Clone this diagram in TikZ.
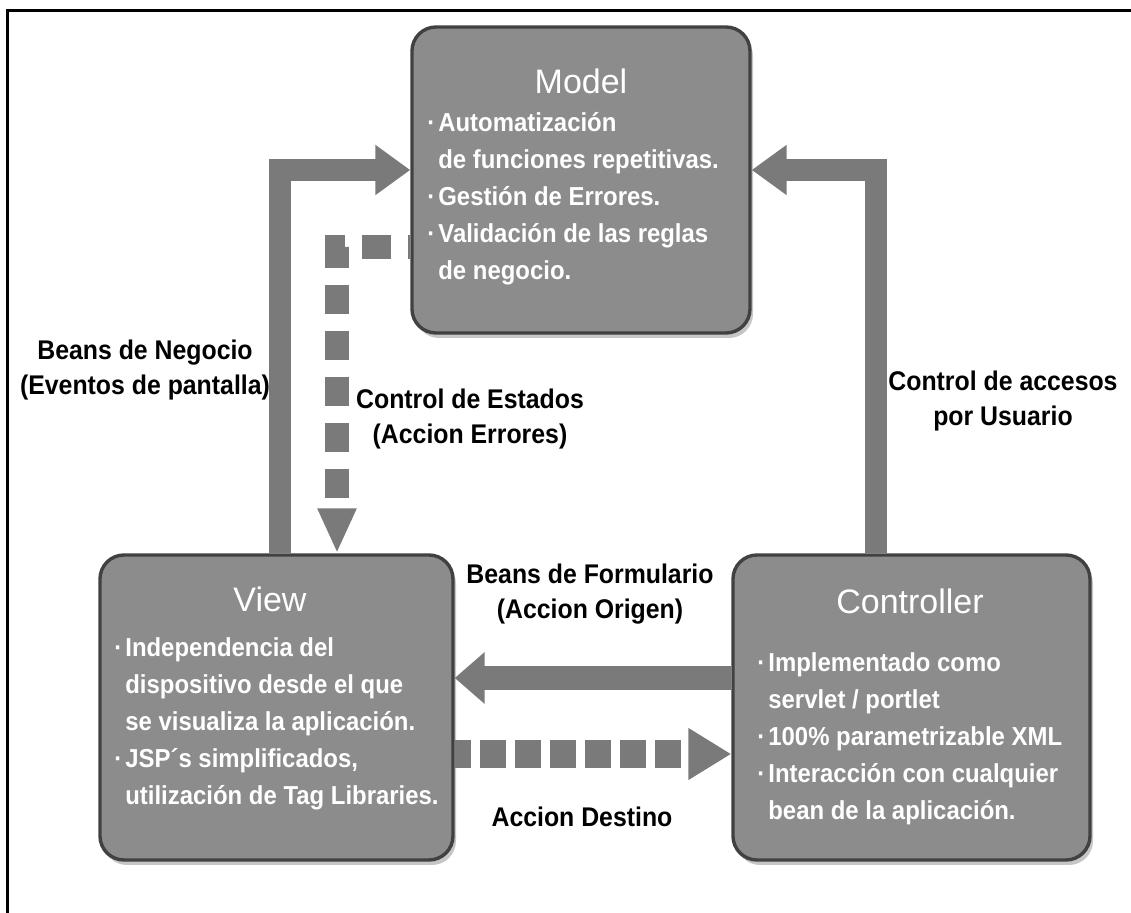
\documentclass[tikz,border=0pt]{standalone}
\usepackage{fontspec}
\setmainfont{Liberation Sans}
\newfontfamily\narrowsans{Liberation Sans}[FakeStretch=0.92]
\usetikzlibrary{arrows.meta,shadows,backgrounds}

\definecolor{boxgray}{RGB}{140,140,140}
\definecolor{edgegray}{RGB}{65,65,65}
\definecolor{arrowgray}{RGB}{122,122,122}

\tikzset{
  mvcbox/.style={draw=edgegray, line width=1.7pt, fill=boxgray, rounded corners=12pt, minimum height=152.5pt, drop shadow={shadow xshift=1.5pt, shadow yshift=-2.5pt, opacity=0.45}},
  boxtitle/.style={text=white, font=\fontsize{17pt}{20pt}\selectfont, anchor=base, inner sep=0pt},
  boxtext/.style={text=white, font=\narrowsans\bfseries\fontsize{13pt}{18.5pt}\selectfont, anchor=base west, inner sep=0pt},
  lbl/.style={font=\narrowsans\bfseries\fontsize{13.5pt}{17.5pt}\selectfont, align=center, inner sep=0pt},
  fatarrow/.style={draw=arrowgray, line width=11pt, line join=miter, -{Triangle[width=24pt,length=17.5pt]}},
  dotarrow/.style={draw=arrowgray, line width=14pt, dash pattern=on 13pt off 4.5pt, dash phase=4.75pt, -{Triangle[width=24.5pt,length=21.5pt]}},
  stairarrow/.style={draw=arrowgray, line width=12pt, line join=miter, dash pattern=on 14.5pt off 8.5pt, dash phase=13.5pt, -{Triangle[width=18pt,length=22.5pt]}}
}

\begin{document}
\begin{tikzpicture}[x=0.5pt, y=-0.5pt]

\useasboundingbox (0,0) rectangle (1131,913);
\draw[line width=1.5pt] (7,913) -- (7,11) -- (1131,11);

\node (model) [mvcbox, minimum width=169pt, minimum height=153pt] at (581,180) {};
\node (view) [mvcbox, minimum width=176.5pt] at (276.5,707.5) {};
\node (ctrl) [mvcbox, right of=view, node distance=317.5pt, minimum width=178.5pt] {};

\node (modeltitle) [boxtitle] at (581,94) {Model};
\node (viewtitle) [boxtitle] at (270,612) {View};
\node (ctrltitle) [boxtitle] at (910,614) {Controller};

\node (modeltext) [boxtext] at (427,132) {\begin{tabular}[t]{@{}l@{\hspace{1.5pt}}l@{}}
· & Automatización\\
  & de funciones repetitivas.\\
· & Gestión de Errores.\\
· & Validación de las reglas\\
  & de negocio.
\end{tabular}};

\node (viewtext) [boxtext] at (114,657) {\begin{tabular}[t]{@{}l@{\hspace{1.5pt}}l@{}}
· & Independencia del\\
  & dispositivo desde el que\\
  & se visualiza la aplicación.\\
· & JSP´s simplificados,\\
  & utilización de Tag Libraries.
\end{tabular}};

\node (ctrltext) [boxtext] at (757,672) {\begin{tabular}[t]{@{}l@{\hspace{1.5pt}}l@{}}
· & Implementado como\\
  & servlet / portlet\\
· & 100\% parametrizable XML\\
· & Interacción con cualquier\\
  & bean de la aplicación.
\end{tabular}};

\node (negocio) [lbl] at (145,370) {Beans de Negocio\\(Eventos de pantalla)};
\node (estados) [lbl] at (470,419) {Control de Estados\\(Accion Errores)};
\node (accesos) [lbl] at (1003,401) {Control de accesos\\por Usuario};
\node (formulario) [lbl] at (590,594) {Beans de Formulario\\(Accion Origen)};
\node (destino) [lbl] at (582,817) {Accion Destino};

\coordinate (lbend) at (280,170);
\coordinate (rbend) at (876,170);
\coordinate (formy) at (600,678);
\coordinate (desty) at (600,754);
\coordinate (estbend) at (337,247);

\begin{pgfonlayer}{background}
\draw[fatarrow] (lbend |- view.north) -- (lbend) -- (lbend -| model.west);
\draw[fatarrow] (rbend |- ctrl.north) -- (rbend) -- (rbend -| model.east);
\draw[fatarrow, line width=12pt, -{Triangle[width=25pt,length=15pt]}] (formy -| ctrl.west) -- (formy -| view.east);
\draw[dotarrow] (desty -| view.east) -- (desty -| ctrl.west);
\draw[stairarrow] (estbend -| model.west) -- (estbend) -- (estbend |- view.north);
\end{pgfonlayer}

\end{tikzpicture}
\end{document}
